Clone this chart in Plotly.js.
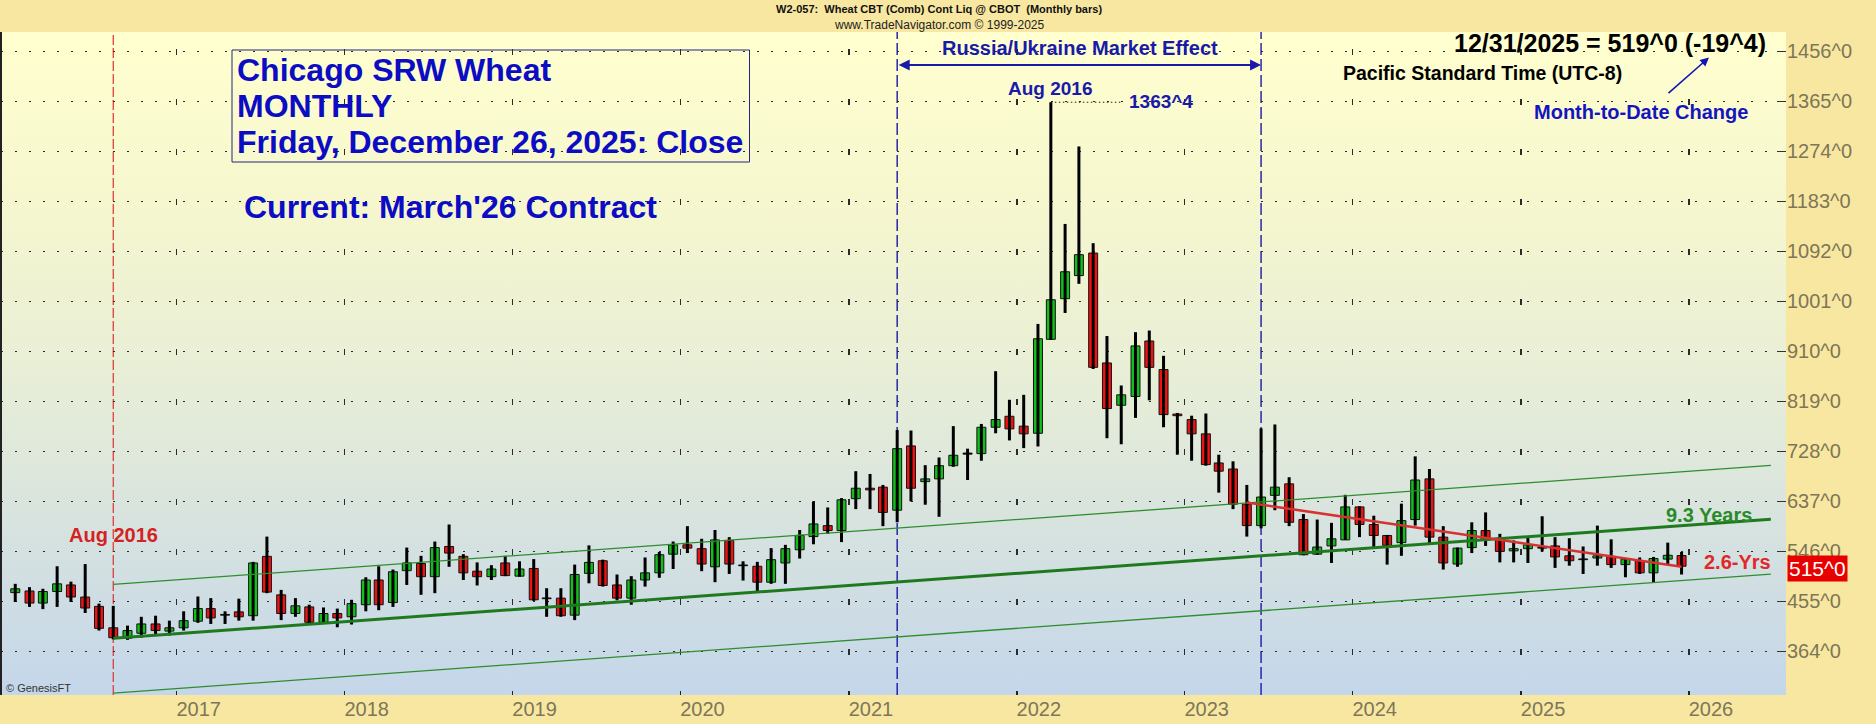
<!DOCTYPE html>
<html>
<head>
<meta charset="utf-8">
<script src="https://cdn.plot.ly/plotly-3.0.1.min.js"></script>
<style>
html,body{margin:0;padding:0;background:#F8E7A0;}
#chart{width:1876px;height:724px;
background:linear-gradient(to bottom,#FFFFCF 0%,#F6F7CE 25%,#E9EFD6 50%,#D9E4DE 72%,#C4D6EA 100%) 1px 32px/1785px 663px no-repeat,#F8E7A0;}
</style>
</head>
<body>
<div id="chart"></div>
<script>
// ---------- DATA (monthly OHLC, Jan 2016 .. Dec 2025) ----------
const firstYear = 2016;
const opens = [
 471,474,452,473,485,463,446,407,388,397,414,401,
 407,419,442,431,436,429,537,467,433,445,417,433,
 427,449,494,453,511,524,500,555,537,510,500,525,
 501,515,461,461,430,506,529,485,461,494,507,541,
 558,551,518,566,521,519,490,525,549,573,593,584,
 642,661,663,621,738,673,678,702,725,724,772,792,
 774,761,932,1006,1048,1089,889,812,828,929,877,796,
 786,760,707,696,632,593,648,669,604,541,556,567,
 627,595,575,562,604,678,572,523,553,584,570,547,
 551,553,556,538,532,534,537,522,529,507,532,538.5];
const highs = [
 487,481,478,519,491,523,451,447,411,427,429,420,
 437,464,461,437,460,527,573,476,461,449,444,442,
 458,499,519,513,553,538,564,595,541,526,521,538,
 528,532,479,479,522,557,531,504,501,535,545,564,
 592,569,585,572,528,527,552,558,585,637,626,643,
 692,687,667,767,766,703,717,774,733,778,874,822,
 831,960,1363.5,1142,1283,1107,938,848,945,948,902,798,
 793,797,722,710,667,770,777,681,614,604,598,649,
 628,611,576,633,719,696,592,553,599,617,578,566,
 572,610,572,570,555,593,568,534,535,536,562,545];
const lows = [
 454,445,441,445,454,434,402,386,385,389,392,393,
 402,416,414,414,420,420,470,421,427,414,416,408,
 413,437,439,445,485,467,470,518,494,484,494,501,
 500,456,427,427,421,488,482,457,449,482,498,514,
 543,510,490,505,493,472,487,487,533,559,578,563,
 623,623,592,599,637,631,609,700,676,711,761,748,
 734,737,931,980,1033,878,752,741,789,821,772,722,
 711,702,653,623,573,588,621,592,539,540,525,567,
 572,554,522,538,593,560,513,518,543,556,526,526,
 525,546,516,520,505,520,516,499,505,490,523,504];
const closes = [
 478,452,473,487,463,443,406,389,402,414,402,407,
 420,442,425,430,427,525,472,433,447,417,433,425,
 451,494,449,509,525,500,553,543,507,500,514,502,
 514,458,460,429,504,526,484,461,494,507,540,558,
 552,523,567,523,520,490,531,551,575,596,584,640,
 661,658,617,733,661,678,702,721,723,772,786,769,
 760,933,1004,1055,1086,881,806,831,920,881,795,793,
 760,704,692,632,593,645,663,599,540,554,569,627,
 595,575,557,602,676,572,525,552,584,568,546,551,
 558,552,536,529,531,538,522,532,507,533,539,519];

// axis ticks / labels
const yearTicks = ["2017-01-01","2018-01-01","2019-01-01","2020-01-01","2021-01-01","2022-01-01","2023-01-01","2024-01-01","2025-01-01","2026-01-01"];
const yearLabels = ["2017","2018","2019","2020","2021","2022","2023","2024","2025","2026"];
const priceTicks = [364,455,546,637,728,819,910,1001,1092,1183,1274,1365,1456];
const priceLabels = ["364^0","455^0","546^0","637^0","728^0","819^0","910^0","1001^0","1092^0","1183^0","1274^0","1365^0","1456^0"];

// trend lines (drawn by the analyst)
const channelDates = ["2016-08-16","2026-06-28"];
const supportVals  = [388, 604.6];
const upperVals    = [486, 702.6];
const lowerVals    = [288, 504.6];
const downDates    = ["2023-05-16","2025-12-16"];
const downVals     = [635, 518];
// event markers
const eventDates = ["2016-08-16","2021-04-16","2023-06-16"];
const peakLabelEnd = "2022-08-16";
const lastLabelValue = 515;

// ---------- BUILD ----------
const dates = opens.map((_, i) => {
  const y = firstYear + Math.floor(i / 12);
  const m = (i % 12) + 1;
  return y + "-" + String(m).padStart(2, "0") + "-16";
});
const GREEN = "#12BE1A", RED = "#F01212";
const bodyBase = opens.map((o, i) => Math.min(o, closes[i]));
const bodyH = opens.map((o, i) => Math.max(Math.abs(closes[i] - o), 1.3));
const bodyCol = opens.map((o, i) => {
  const d = closes[i] - o;
  if (Math.abs(d) <= 2) return "#000000";
  return d > 0 ? GREEN : RED;
});
let peakIdx = 0;
highs.forEach((h, i) => { if (h > highs[peakIdx]) peakIdx = i; });
const peakDate = dates[peakIdx], peakVal = highs[peakIdx];

const DAY = 86400000;

const traces = [
  {type:"scatter", mode:"lines", x:channelDates, y:upperVals, line:{color:"#2E8E2E", width:1.3}, hoverinfo:"skip"},
  {type:"scatter", mode:"lines", x:channelDates, y:lowerVals, line:{color:"#2E8E2E", width:1.3}, hoverinfo:"skip"},
  {type:"scatter", mode:"lines", x:channelDates, y:supportVals, line:{color:"#1F7A1F", width:3}, hoverinfo:"skip"},
  {type:"scatter", mode:"lines", x:downDates, y:downVals, line:{color:"#D63232", width:2.6}, hoverinfo:"skip"},
  {type:"ohlc", x:dates, open:opens, high:highs, low:lows, close:closes, tickwidth:0,
   increasing:{line:{color:"#000", width:3}}, decreasing:{line:{color:"#000", width:3}}, hoverinfo:"skip"},
  {type:"bar", x:dates, y:bodyH, base:bodyBase, width:19.5 * DAY,
   marker:{color:bodyCol, line:{color:"#111", width:1}}, hoverinfo:"skip"}
];

const ML = 1, MR = 90, MT = 32, MB = 29, W = 1876, H = 724;
const PW = W - ML - MR, PH = H - MT - MB;
const px = x => (x - ML) / PW;
const py = y => (H - MB - y) / PH;
const FONT = "Liberation Sans, Arial, sans-serif";
const BLUE = "#0C0CC4", NAVY = "#1A1AA8";

function txt(text, x, y, size, color, xanchor, extra) {
  return Object.assign({xref:"paper", yref:"paper", x:px(x), y:py(y), text:text, showarrow:false,
    xanchor:xanchor || "left", yanchor:"middle",
    font:{family:FONT, size:size, color:color, weight:"bold"}}, extra || {});
}

const annotations = [
  txt("W2-057:  Wheat CBT (Comb) Cont Liq @ CBOT  (Monthly bars)", 939, 9.5, 11, "#111", "center"),
  Object.assign(txt("www.TradeNavigator.com © 1999-2025", 939, 24.5, 12, "#222", "center"), {font:{family:FONT, size:12, color:"#222"}}),
  txt("Chicago SRW Wheat", 235, 69.5, 32, BLUE),
  txt("MONTHLY", 235, 106, 32, BLUE),
  txt("Friday, December 26, 2025: Close", 235, 142, 32, BLUE),
  txt("Current: March'26 Contract", 242, 207.5, 32, BLUE),
  txt("Russia/Ukraine Market Effect", 1080, 47.5, 20, NAVY, "center"),
  txt("Aug 2016", 1050, 88.5, 19, NAVY, "center"),
  txt("1363^4", 1127, 101.7, 19, NAVY),
  txt("Aug 2016", 113, 535, 20, "#D42222", "center"),
  txt("12/31/2025 = 519^0 (-19^4)", 1768, 43.3, 25, "#000", "right"),
  txt("Pacific Standard Time (UTC-8)", 1341, 73.3, 19.5, "#000"),
  txt("Month-to-Date Change", 1532, 111.7, 20, "#1515C0"),
  txt("9.3 Years", 1664, 515, 20, "#2A8A2A"),
  txt("2.6-Yrs", 1702, 561.7, 20, "#E02828"),
  Object.assign(txt("© GenesisFT", 4, 688, 11, "#333"), {font:{family:FONT, size:11, color:"#333"}}),
  {xref:"paper", yref:"y", x:px(1787), y:lastLabelValue, text:"515^0", showarrow:false, xanchor:"left", yanchor:"middle",
   bgcolor:"#E80000", borderpad:1, font:{family:FONT, size:21, color:"#FFFFFF"}},
  // month-to-date arrow
  {xref:"paper", yref:"paper", x:px(1709), y:py(57.5), ax:-42, ay:37, axref:"pixel", ayref:"pixel", text:"",
   showarrow:true, arrowhead:2, arrowsize:1.1, arrowwidth:1.6, arrowcolor:"#1515B5", standoff:0},
  // Russia/Ukraine double arrow
  {xref:"x", yref:"paper", x:eventDates[2], y:py(65), axref:"x", ax:eventDates[1], ayref:"pixel", ay:0, text:"",
   showarrow:true, arrowhead:2, arrowside:"end+start", arrowsize:1.1, arrowwidth:2, arrowcolor:NAVY, standoff:0}
];

const shapes = [
  {type:"line", xref:"paper", yref:"paper", x0:0, x1:0, y0:0, y1:1, line:{color:"#222", width:2}},
  {type:"line", xref:"x", yref:"paper", x0:eventDates[0], x1:eventDates[0], y0:0, y1:1, layer:"below",
   line:{color:"#E03030", width:1.2, dash:"10px,3px"}},
  {type:"line", xref:"x", yref:"paper", x0:eventDates[1], x1:eventDates[1], y0:0, y1:1, layer:"below",
   line:{color:"#1A1AA8", width:1.4, dash:"12px,4px"}},
  {type:"line", xref:"x", yref:"paper", x0:eventDates[2], x1:eventDates[2], y0:0, y1:1, layer:"below",
   line:{color:"#1A1AA8", width:1.4, dash:"12px,4px"}},
  {type:"line", xref:"x", yref:"y", x0:peakDate, x1:peakLabelEnd, y0:peakVal, y1:peakVal,
   line:{color:"#222", width:1, dash:"1.5px,2.5px"}},
  {type:"rect", xref:"paper", yref:"paper", x0:px(232), x1:px(749.5), y0:py(162), y1:py(50),
   line:{color:"#24247A", width:1}}
];

const layout = {
  width:W, height:H,
  margin:{l:ML, r:MR, t:MT, b:MB, pad:0},
  paper_bgcolor:"rgba(0,0,0,0)", plot_bgcolor:"rgba(0,0,0,0)",
  showlegend:false, bargap:0,
  xaxis:{type:"date", range:["2015-12-16","2026-07-31"], rangeslider:{visible:false},
    tickvals:yearTicks, ticktext:yearLabels, ticklabelshift:22,
    ticks:"inside", ticklen:4, tickcolor:"#222", tickwidth:1.5,
    showgrid:true, gridcolor:"#2a2a2a", gridwidth:1.5, griddash:"0px,16.5px,6px,27.5px",
    showline:false, zeroline:false, fixedrange:true,
    tickfont:{family:FONT, size:20, color:"#7D7658"}},
  yaxis:{side:"right", range:[284.7, 1491.3], tickvals:priceTicks, ticktext:priceLabels,
    ticks:"inside", ticklen:9, tickcolor:"#333", tickwidth:1,
    showgrid:true, gridcolor:"#2a2a2a", gridwidth:1.5, griddash:"1.5px,12.5px",
    showline:false, zeroline:false, fixedrange:true,
    tickfont:{family:FONT, size:20, color:"#7D7658"}},
  annotations:annotations,
  shapes:shapes
};

Plotly.newPlot("chart", traces, layout, {staticPlot:true, displayModeBar:false});
</script>
</body>
</html>
